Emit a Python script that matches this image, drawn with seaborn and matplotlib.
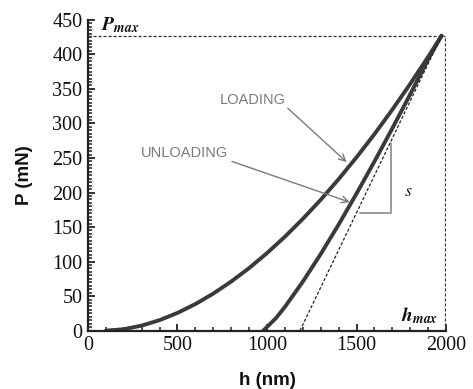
import numpy as np
import pandas as pd
import matplotlib
matplotlib.use("Agg")
import matplotlib.pyplot as plt
import seaborn as sns
from matplotlib.ticker import MultipleLocator

# ---- data ----
load_h = [100, 200, 300, 400, 500, 600, 700, 800, 900, 1000, 1100, 1200,
          1300, 1400, 1500, 1600, 1700, 1800, 1900, 1975]
load_P = [0, 2.1, 7.3, 15.2, 25.7, 38.5, 53.7, 71.1, 90.6, 112.3, 136.0, 161.8,
          189.5, 219.3, 251.0, 284.5, 320.0, 357.3, 396.4, 427]

unload_h = [979, 1050, 1100, 1200, 1300, 1400, 1500, 1600, 1700, 1800, 1900, 1975]
unload_P = [0, 18.1, 34.4, 70.9, 110.9, 153.6, 198.4, 244.9, 292.9, 342.3, 393.0, 427]

tangent_h = [1184, 1975]
tangent_P = [0, 427]

P_max = 427
h_max = 1992

x_ticks = [0, 500, 1000, 1500, 2000]
y_ticks = [0, 50, 100, 150, 200, 250, 300, 350, 400, 450]

sns.set_theme(style="ticks")
plt.rcParams["mathtext.fontset"] = "stix"

fig = plt.figure(figsize=(4.73, 3.89), dpi=100)
ax = fig.add_axes([0.186, 0.150, 0.757, 0.799])

curve_color = "#3a3a3a"
df_load = pd.DataFrame({"h": load_h, "P": load_P})
df_unload = pd.DataFrame({"h": unload_h, "P": unload_P})
sns.lineplot(data=df_load, x="h", y="P", ax=ax, color=curve_color, lw=2.8, sort=False)
sns.lineplot(data=df_unload, x="h", y="P", ax=ax, color=curve_color, lw=2.8, sort=False)
sns.lineplot(x=tangent_h, y=tangent_P, ax=ax, color="#222222", lw=0.9,
             linestyle=(0, (2.5, 1.5)), sort=False)

# reference dotted lines at Pmax and hmax
ax.plot([0, h_max], [P_max, P_max], color="#333333", lw=0.9, linestyle=(0, (2.5, 1.5)))
ax.plot([h_max, h_max], [0, P_max], color="#333333", lw=0.9, linestyle=(0, (2.5, 1.5)))

# stiffness bracket
ax.plot([1519, 1691, 1691], [170, 170, 272], color="#9a9a9a", lw=1.4)
ax.text(1790, 202, "$s$", fontsize=13, ha="center", va="center", color="#222222")

# labels on lines
ax.text(70, 442, r"$\mathbfit{P}_{\mathbfit{max}}$", fontsize=14, ha="left", va="center", color="#111111")
ax.text(1855, 22, r"$\mathbfit{h}_{\mathbfit{max}}$", fontsize=14, ha="center", va="center", color="#111111")

ann_color = "#7a7a7a"
ax.text(921, 334, "LOADING", fontsize=10.5, color=ann_color, ha="center", va="center",
        family="Liberation Sans")
ax.text(541, 257, "UNLOADING", fontsize=10.5, color=ann_color, ha="center", va="center",
        family="Liberation Sans")
ax.annotate("", xy=(1445, 244), xytext=(1116, 322),
            arrowprops=dict(arrowstyle="->", color=ann_color, lw=1.0,
                            shrinkA=0, shrinkB=0, mutation_scale=12))
ax.annotate("", xy=(1462, 186), xytext=(804, 245),
            arrowprops=dict(arrowstyle="->", color=ann_color, lw=1.0,
                            shrinkA=0, shrinkB=0, mutation_scale=12))

ax.set_xlim(0, 2000)
ax.set_ylim(0, 450)
ax.set_xticks(x_ticks)
ax.set_yticks(y_ticks)
ax.xaxis.set_minor_locator(MultipleLocator(100))
ax.yaxis.set_minor_locator(MultipleLocator(5))
ax.tick_params(which="major", direction="in", length=5, width=1.3, color="#222222",
               labelsize=14.5, pad=4)
ax.tick_params(which="minor", direction="in", length=3, width=1.1, color="#222222")
for lab in ax.get_xticklabels() + ax.get_yticklabels():
    lab.set_family("Liberation Serif")
    lab.set_color("#111111")

for side in ["top", "right"]:
    ax.spines[side].set_visible(False)
for side in ["left", "bottom"]:
    ax.spines[side].set_linewidth(1.6)
    ax.spines[side].set_color("#222222")

ax.set_xlabel("h (nm)", fontsize=13.5, fontweight="bold", family="Liberation Sans",
              color="#111111", labelpad=12)
ax.set_ylabel("P (mN)", fontsize=13.5, fontweight="bold", family="Liberation Sans",
              color="#111111", labelpad=14)

fig.savefig("out.png", dpi=100)
